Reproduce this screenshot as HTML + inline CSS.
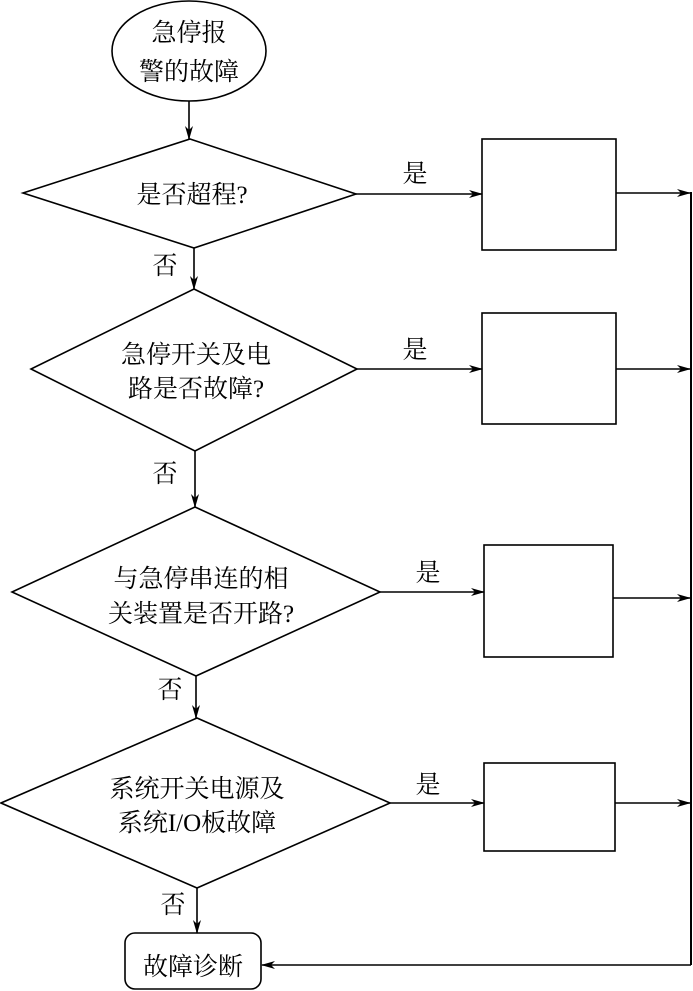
<!DOCTYPE html>
<html><head><meta charset="utf-8"><style>
html,body{margin:0;padding:0;background:#fff;}
svg{display:block;}
text{font-family:"Liberation Serif","Noto Serif CJK SC","Noto Sans CJK SC",serif;font-size:25px;fill:#000;}
</style></head><body>
<svg width="693" height="991" viewBox="0 0 693 991" xmlns="http://www.w3.org/2000/svg">
<defs>
<marker id="a" markerWidth="14" markerHeight="8" refX="13" refY="4" orient="auto" markerUnits="userSpaceOnUse">
<path d="M0,0 L14,4 L0,8 L4,4 Z" fill="#000"/>
</marker>
</defs>
<g stroke="#000" stroke-width="1.6" fill="none">
<ellipse cx="189" cy="51" rx="77" ry="50"/>
<line x1="189" y1="101" x2="189" y2="139" marker-end="url(#a)"/>
<polygon points="190,139 356,194 194,248 23,193"/>
<line x1="194" y1="248" x2="194" y2="289" marker-end="url(#a)"/>
<polygon points="194,289 357,369 195,451 31,369"/>
<line x1="195" y1="451" x2="195" y2="507" marker-end="url(#a)"/>
<polygon points="195,507 380,592 196,676 12,592"/>
<line x1="196" y1="676" x2="196" y2="718" marker-end="url(#a)"/>
<polygon points="197,718 390,803 197,888 1,803"/>
<line x1="197" y1="888" x2="197" y2="933" marker-end="url(#a)"/>
<rect x="125" y="933" width="136" height="56" rx="10"/>

<line x1="356" y1="194" x2="482" y2="194" marker-end="url(#a)"/>
<rect x="482" y="139" width="134" height="111"/>
<line x1="616" y1="193" x2="690" y2="193" marker-end="url(#a)"/>

<line x1="357" y1="369" x2="482" y2="369" marker-end="url(#a)"/>
<rect x="482" y="313" width="134" height="111"/>
<line x1="616" y1="369" x2="690" y2="369" marker-end="url(#a)"/>

<line x1="380" y1="592" x2="484" y2="592" marker-end="url(#a)"/>
<rect x="484" y="545" width="129" height="112"/>
<line x1="613" y1="598" x2="690" y2="598" marker-end="url(#a)"/>

<line x1="390" y1="803" x2="484" y2="803" marker-end="url(#a)"/>
<rect x="484" y="763" width="131" height="88"/>
<line x1="615" y1="803" x2="690" y2="803" marker-end="url(#a)"/>

<line x1="691" y1="192" x2="691" y2="965" stroke-width="2"/>
<line x1="691" y1="965" x2="262" y2="965" marker-end="url(#a)"/>
</g>
<g text-anchor="middle">
<text x="189" y="41">急停报</text>
<text x="189" y="80">警的故障</text>
<text x="192" y="203">是否超程?</text>
<text x="196" y="363">急停开关及电</text>
<text x="196" y="397">路是否故障?</text>
<text x="201" y="587">与急停串连的相</text>
<text x="201" y="622">关装置是否开路?</text>
<text x="197" y="797">系统开关电源及</text>
<text x="197" y="831">系统I/O板故障</text>
<text x="193" y="975">故障诊断</text>
<text x="165" y="274">否</text>
<text x="165" y="482">否</text>
<text x="170" y="698">否</text>
<text x="173" y="913">否</text>
<text x="415" y="182">是</text>
<text x="415" y="358">是</text>
<text x="428" y="581">是</text>
<text x="428" y="793">是</text>
</g>
</svg>
</body></html>
